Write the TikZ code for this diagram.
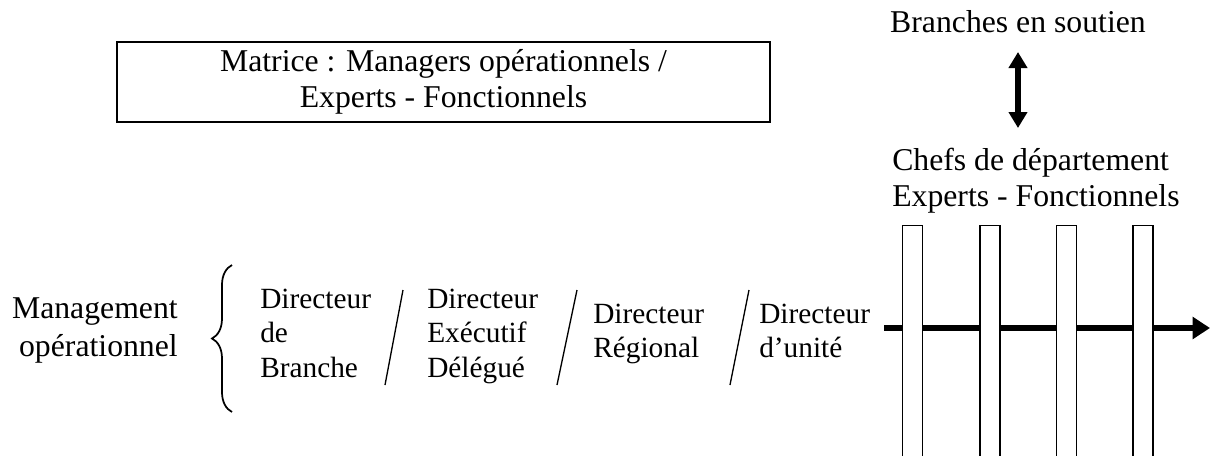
\documentclass[tikz,border=0pt]{standalone}
\usepackage{fontspec}
\setmainfont{Liberation Serif}
\usetikzlibrary{arrows.meta,decorations.pathreplacing}

\begin{document}
\begin{tikzpicture}[x=0.75pt, y=-0.75pt,
        grand/.style={font=\fontsize{23.8}{27}\selectfont, inner sep=0pt},
        petit/.style={font=\fontsize{22}{25.9}\selectfont, inner sep=0pt, align=left, anchor=north west},
        barre/.style={draw, line width=1pt, fill=white, anchor=north, minimum width=15pt, minimum height=180pt, inner sep=0pt},
        fleche/.style={line width=4.5pt, -{Triangle[length=13pt, width=16pt]}},
        dfleche/.style={line width=4pt, {Triangle[length=12pt, width=13.5pt]}-{Triangle[length=12pt, width=13.5pt]}}]
        \useasboundingbox (0,0) rectangle (1211,455);
        \clip (0,0) rectangle (1211,455);

        %labels
        \node[grand, draw, line width=1.5pt, align=center, minimum width=489.75pt, minimum height=60pt] (matrice) at (443.5,82) {Matrice : Managers opérationnels /\\Experts - Fonctionnels};
        \node[grand] (soutien) at (1018,22) {Branches en soutien};
        \node[grand, align=left, anchor=west] (chefs) at (892,180.5) {Chefs de département\\Experts - Fonctionnels};
        \node[grand, align=right, anchor=east, font=\fontsize{23.8}{28.5}\selectfont] (management) at (178,330.5) {Management\\opérationnel};

        %Directeurs
        \node[petit] (branche) at (260,288.5) {Directeur\\de\\Branche};
        \node[petit] (delegue) at (427,288.5) {Directeur\\Exécutif\\Délégué};
        \node[petit] (regional) at (593,303.5) {Directeur\\Régional};
        \node[petit] (unite) at (759,303.5) {Directeur\\d’unité};

        \draw[line width=1.3pt] (232,412) [decorate, decoration={brace, amplitude=15pt}] -- (232,265);
        \draw[line width=1pt] (403,290) -- (385,385);
        \draw[line width=1pt] (577,290) -- (557,385);
        \draw[line width=1pt] (749,290) -- (730,385);

        %Edges
        \coordinate (haut) at (1018,52);
        \coordinate (bas) at (1018,128);
        \draw[dfleche] (haut) -- (bas);

        \coordinate (depart) at (884,328);
        \coordinate (arrivee) at (1210,328);
        \draw[fleche] (depart) -- (arrivee);

        %bars
        \node[barre] (b1) at (912.5,225) {};
        \node[barre] (b2) at (990,225) {};
        \node[barre] (b3) at (1066.5,225) {};
        \node[barre] (b4) at (1143,225) {};
\end{tikzpicture}
\end{document}
